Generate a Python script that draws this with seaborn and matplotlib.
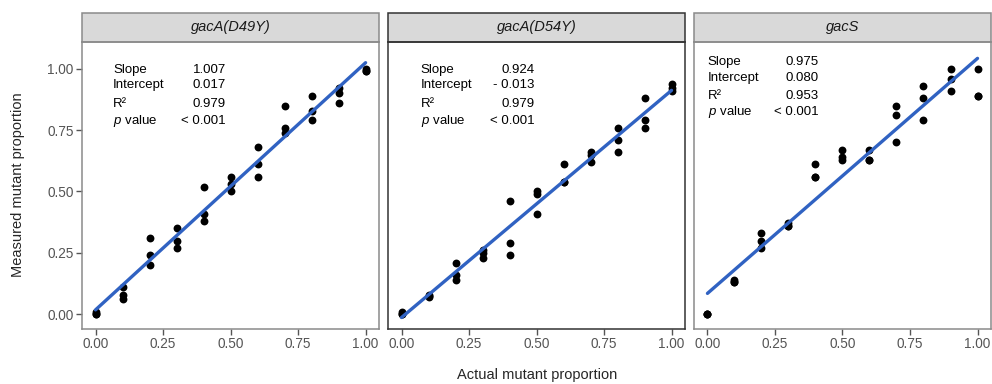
import pandas as pd
import matplotlib.pyplot as plt
import seaborn as sns
from matplotlib.patches import Rectangle

# =========================
# DATA
# =========================

levels = [0.0, 0.1, 0.2, 0.3, 0.4, 0.5, 0.6, 0.7, 0.8, 0.9, 1.0]

panels = ["gacA(D49Y)", "gacA(D54Y)", "gacS"]

d49y_measured = [0.00, 0.01, 0.00, 0.11, 0.08, 0.06, 0.31, 0.24, 0.20,
                 0.35, 0.30, 0.27, 0.52, 0.41, 0.38, 0.56, 0.53, 0.50,
                 0.68, 0.61, 0.56, 0.85, 0.76, 0.74, 0.89, 0.83, 0.79,
                 0.92, 0.90, 0.86, 1.00, 0.99, 0.99]

d54y_measured = [0.01, 0.00, 0.00, 0.08, 0.07, 0.075, 0.21, 0.16, 0.14,
                 0.26, 0.25, 0.23, 0.46, 0.29, 0.24, 0.50, 0.49, 0.41,
                 0.61, 0.54, 0.54, 0.66, 0.65, 0.62, 0.76, 0.71, 0.66,
                 0.88, 0.79, 0.76, 0.94, 0.92, 0.91]

gacs_measured = [0.00, 0.00, 0.00, 0.14, 0.13, 0.13, 0.33, 0.30, 0.27,
                 0.37, 0.36, 0.36, 0.61, 0.56, 0.56, 0.67, 0.64, 0.63,
                 0.67, 0.63, 0.63, 0.85, 0.81, 0.70, 0.93, 0.88, 0.79,
                 1.00, 0.96, 0.91, 1.00, 0.89, 0.89]

stat_labels = ["Slope", "Intercept", "R\u00b2", "$\\it{p}$ value"]
stat_values = {
    "gacA(D49Y)": ["1.007", "0.017", "0.979", "< 0.001"],
    "gacA(D54Y)": ["0.924", "- 0.013", "0.979", "< 0.001"],
    "gacS": ["0.975", "0.080", "0.953", "< 0.001"],
}

x_ticks = [0.0, 0.25, 0.5, 0.75, 1.0]
tick_labels = ["0.00", "0.25", "0.50", "0.75", "1.00"]

# build long table
actual = [lv for lv in levels for _ in range(3)]
df = pd.concat([
    pd.DataFrame({"actual": actual, "measured": d49y_measured, "strain": panels[0]}),
    pd.DataFrame({"actual": actual, "measured": d54y_measured, "strain": panels[1]}),
    pd.DataFrame({"actual": actual, "measured": gacs_measured, "strain": panels[2]}),
])

# =========================
# STYLE
# =========================

sns.set_style("white")
plt.rcParams["font.family"] = ["Liberation Sans", "DejaVu Sans"]
plt.rcParams["mathtext.fontset"] = "custom"
plt.rcParams["mathtext.rm"] = "Liberation Sans"
plt.rcParams["mathtext.it"] = "Liberation Sans:italic"

# =========================
# PLOT
# =========================

g = sns.FacetGrid(df, col="strain", col_order=panels, sharex=True, sharey=True)
g.map_dataframe(sns.regplot, x="actual", y="measured", ci=None,
                scatter_kws={"color": "black", "s": 32, "linewidths": 0, "alpha": 1},
                line_kws={"color": "#3062C2", "lw": 2.4})

fig = g.figure
fig.set_size_inches(9.92, 3.84)
fig.subplots_adjust(left=0.0827, right=0.999, bottom=0.143, top=0.891, wspace=0.03)

border_colors = ["#8a8a8a", "#333333", "#8a8a8a"]
label_x = [0.105, 0.11, 0.047]
value_x = [0.485, 0.493, 0.42]
row_y = [[0.903, 0.851, 0.785, 0.726],
         [0.903, 0.851, 0.785, 0.726],
         [0.930, 0.875, 0.812, 0.757]]

for i, (ax, name) in enumerate(zip(g.axes.flat, panels)):
    ax.set_xlim(-0.05, 1.05)
    ax.set_ylim(-0.061, 1.11)
    ax.set_xticks(x_ticks)
    ax.set_xticklabels(tick_labels)
    ax.set_yticks(x_ticks)
    ax.set_yticklabels(tick_labels)
    ax.set_title("")
    ax.set_xlabel("")
    ax.set_ylabel("")
    ax.grid(False)
    ax.tick_params(axis="both", direction="out", length=4, width=1, color="#555555",
                   labelcolor="#555555", labelsize=9.8, pad=2, bottom=True, left=(i == 0))
    for sp in ax.spines.values():
        sp.set_visible(True)
        sp.set_color(border_colors[i])
        sp.set_linewidth(1.1)

    # strip on top
    strip = Rectangle((0, 1.0), 1, 0.10, transform=ax.transAxes, clip_on=False,
                      facecolor="#D9D9D9", edgecolor=border_colors[i], linewidth=1.1)
    ax.add_patch(strip)
    ax.text(0.5, 1.05, name, transform=ax.transAxes, ha="center", va="center",
            fontsize=10.5, style="italic", color="#1a1a1a")

    # stats text
    for lab, val, yy in zip(stat_labels, stat_values[name], row_y[i]):
        ax.text(label_x[i], yy, lab, transform=ax.transAxes, ha="left", va="center",
                fontsize=9.5, color="black")
        ax.text(value_x[i], yy, val, transform=ax.transAxes, ha="right", va="center",
                fontsize=9.5, color="black")

fig.text(0.541, 0.023, "Actual mutant proportion", ha="center", va="center", fontsize=10.5)
fig.text(0.018, 0.52, "Measured mutant proportion", ha="center", va="center",
         rotation=90, fontsize=10.5)

plt.savefig("out.png", dpi=100)
